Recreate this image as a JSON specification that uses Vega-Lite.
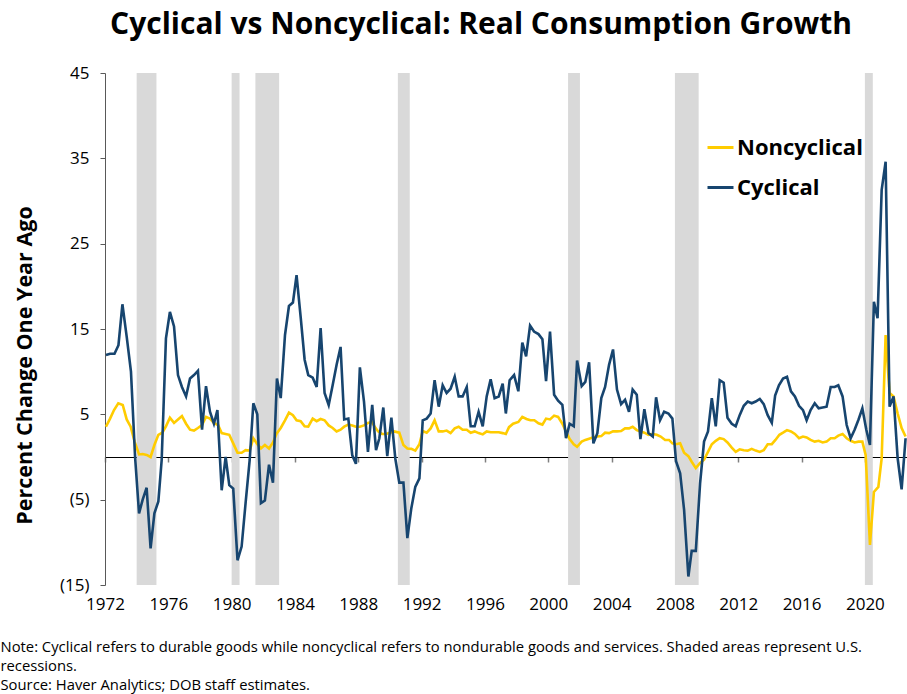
{
  "$schema": "https://vega.github.io/schema/vega-lite/v6.json",
  "width": 802,
  "height": 512,
  "autosize": "none",
  "padding": {"left": 105, "top": 73, "right": 0, "bottom": 109},
  "background": "white",
  "config": {"view": {"stroke": null}},
  "title": {"text": "Cyclical vs Noncyclical: Real Consumption Growth", "font": "Open Sans", "fontSize": 30, "fontWeight": "bold", "color": "black", "anchor": "middle", "dx": -25, "offset": 24},
  "datasets": {
    "rec": [
      {"d": 1974.0, "e": 1975.25},
      {"d": 1980.0, "e": 1980.5},
      {"d": 1981.5, "e": 1983.0},
      {"d": 1990.5, "e": 1991.25},
      {"d": 2001.25, "e": 2002.0},
      {"d": 2008.0, "e": 2009.5},
      {"d": 2020.0, "e": 2020.5}
    ],
    "non": [
      {"d":1972.06,"v":3.55},{"d":1972.32,"v":4.5},{"d":1972.57,"v":5.5},{"d":1972.84,"v":6.3},{"d":1973.12,"v":6.1},{"d":1973.37,"v":4.4},{"d":1973.62,"v":3.55},{"d":1973.87,"v":1.8},
      {"d":1974.15,"v":0.3},{"d":1974.38,"v":0.35},{"d":1974.63,"v":0.25},{"d":1974.88,"v":0},{"d":1975.12,"v":1.4},{"d":1975.37,"v":2.6},{"d":1975.62,"v":2.85},{"d":1975.85,"v":3.6},
      {"d":1976.1,"v":4.6},{"d":1976.36,"v":4.0},{"d":1976.61,"v":4.4},{"d":1976.86,"v":4.8},{"d":1977.12,"v":3.9},{"d":1977.37,"v":3.2},{"d":1977.62,"v":3.1},{"d":1977.87,"v":3.4},
      {"d":1978.13,"v":3.75},{"d":1978.38,"v":4.7},{"d":1978.63,"v":4.5},{"d":1978.88,"v":4.0},{"d":1979.14,"v":3.75},{"d":1979.37,"v":2.8},{"d":1979.62,"v":2.7},{"d":1979.85,"v":2.6},
      {"d":1980.1,"v":1.6},{"d":1980.37,"v":0.5},{"d":1980.63,"v":0.5},{"d":1980.88,"v":0.8},{"d":1981.14,"v":0.75},{"d":1981.37,"v":2.2},{"d":1981.62,"v":1.5},{"d":1981.85,"v":1.0},
      {"d":1982.1,"v":1.4},{"d":1982.36,"v":1.0},{"d":1982.61,"v":1.7},{"d":1982.86,"v":2.8},{"d":1983.1,"v":3.4},{"d":1983.37,"v":4.3},{"d":1983.62,"v":5.2},{"d":1983.87,"v":4.9},
      {"d":1984.1,"v":4.3},{"d":1984.36,"v":4.2},{"d":1984.61,"v":3.6},{"d":1984.84,"v":3.55},{"d":1985.12,"v":4.5},{"d":1985.37,"v":4.2},{"d":1985.62,"v":4.45},{"d":1985.87,"v":4.3},
      {"d":1986.13,"v":3.7},{"d":1986.38,"v":3.4},{"d":1986.63,"v":3.0},{"d":1986.88,"v":3.2},{"d":1987.11,"v":3.55},{"d":1987.37,"v":3.8},{"d":1987.62,"v":3.7},{"d":1987.85,"v":3.55},
      {"d":1988.1,"v":3.55},{"d":1988.36,"v":3.7},{"d":1988.61,"v":4.0},{"d":1988.86,"v":4.1},{"d":1989.05,"v":3.5},{"d":1989.25,"v":3.0},{"d":1989.5,"v":2.7},{"d":1989.75,"v":2.7},
      {"d":1990.0,"v":2.85},{"d":1990.26,"v":3.0},{"d":1990.59,"v":2.85},{"d":1990.85,"v":1.4},{"d":1991.1,"v":1.0},{"d":1991.35,"v":0.95},{"d":1991.6,"v":0.75},{"d":1991.86,"v":1.5},
      {"d":1992.07,"v":3.05},{"d":1992.32,"v":2.85},{"d":1992.57,"v":3.35},{"d":1992.82,"v":4.3},{"d":1993.08,"v":3.0},{"d":1993.33,"v":3.0},{"d":1993.58,"v":3.1},{"d":1993.83,"v":2.8},
      {"d":1994.09,"v":3.35},{"d":1994.34,"v":3.55},{"d":1994.59,"v":3.2},{"d":1994.85,"v":3.2},{"d":1995.1,"v":2.85},{"d":1995.35,"v":3.0},{"d":1995.6,"v":2.8},{"d":1995.86,"v":2.65},
      {"d":1996.11,"v":3.0},{"d":1996.36,"v":2.9},{"d":1996.61,"v":2.9},{"d":1996.87,"v":2.9},{"d":1997.12,"v":2.8},{"d":1997.32,"v":2.7},{"d":1997.52,"v":3.5},{"d":1997.78,"v":3.9},
      {"d":1998.11,"v":4.1},{"d":1998.36,"v":4.7},{"d":1998.62,"v":4.45},{"d":1998.87,"v":4.3},{"d":1999.12,"v":4.3},{"d":1999.38,"v":3.95},{"d":1999.63,"v":3.8},{"d":1999.86,"v":4.5},
      {"d":2000.11,"v":4.4},{"d":2000.37,"v":4.85},{"d":2000.62,"v":4.7},{"d":2000.89,"v":3.9},{"d":2001.12,"v":3.0},{"d":2001.35,"v":2.1},{"d":2001.61,"v":1.5},{"d":2001.82,"v":1.2},
      {"d":2002.11,"v":1.8},{"d":2002.34,"v":2.0},{"d":2002.58,"v":2.15},{"d":2002.85,"v":2.3},{"d":2003.1,"v":2.4},{"d":2003.35,"v":2.45},{"d":2003.59,"v":2.85},{"d":2003.84,"v":2.8},
      {"d":2004.09,"v":3.0},{"d":2004.34,"v":3.0},{"d":2004.6,"v":3.05},{"d":2004.85,"v":3.35},{"d":2005.1,"v":3.35},{"d":2005.33,"v":3.55},{"d":2005.59,"v":3.15},{"d":2005.84,"v":3.0},
      {"d":2006.07,"v":2.85},{"d":2006.33,"v":2.6},{"d":2006.6,"v":2.7},{"d":2006.85,"v":2.6},{"d":2007.1,"v":2.4},{"d":2007.38,"v":2.0},{"d":2007.63,"v":2.0},{"d":2007.84,"v":1.6},
      {"d":2008.07,"v":1.5},{"d":2008.33,"v":1.6},{"d":2008.58,"v":0.5},{"d":2008.85,"v":0.1},{"d":2009.06,"v":-0.55},{"d":2009.32,"v":-1.3},{"d":2009.59,"v":-0.7},{"d":2009.84,"v":-0.3},
      {"d":2010.09,"v":0.6},{"d":2010.33,"v":1.5},{"d":2010.58,"v":1.9},{"d":2010.83,"v":2.2},{"d":2011.08,"v":2.1},{"d":2011.32,"v":1.7},{"d":2011.59,"v":1.1},{"d":2011.84,"v":0.6},
      {"d":2012.09,"v":0.9},{"d":2012.35,"v":0.8},{"d":2012.6,"v":0.75},{"d":2012.85,"v":0.95},{"d":2013.1,"v":0.75},{"d":2013.36,"v":0.6},{"d":2013.61,"v":0.8},{"d":2013.86,"v":1.5},
      {"d":2014.12,"v":1.5},{"d":2014.35,"v":2.0},{"d":2014.6,"v":2.6},{"d":2014.83,"v":2.85},{"d":2015.08,"v":3.15},{"d":2015.33,"v":3.0},{"d":2015.58,"v":2.7},{"d":2015.84,"v":2.2},
      {"d":2016.09,"v":2.4},{"d":2016.32,"v":2.3},{"d":2016.57,"v":2.0},{"d":2016.83,"v":1.8},{"d":2017.08,"v":1.9},{"d":2017.33,"v":1.7},{"d":2017.58,"v":1.8},{"d":2017.84,"v":2.2},
      {"d":2018.09,"v":2.2},{"d":2018.32,"v":2.5},{"d":2018.59,"v":2.7},{"d":2018.85,"v":2.2},{"d":2019.1,"v":1.9},{"d":2019.35,"v":1.7},{"d":2019.6,"v":1.8},{"d":2019.84,"v":1.8},
      {"d":2020.05,"v":0.2},{"d":2020.32,"v":-10.3},{"d":2020.57,"v":-4.1},{"d":2020.85,"v":-3.5},{"d":2021.06,"v":-0.15},{"d":2021.31,"v":14.3},{"d":2021.56,"v":7.5},{"d":2021.81,"v":7.1},
      {"d":2022.07,"v":5.1},{"d":2022.32,"v":3.4},{"d":2022.57,"v":2.4}
    ],
    "cyc": [
      {"d":1972.06,"v":11.95},{"d":1972.32,"v":12.1},{"d":1972.6,"v":12.1},{"d":1972.85,"v":13.1},{"d":1973.1,"v":17.9},{"d":1973.37,"v":14.1},{"d":1973.64,"v":10.0},{"d":1973.9,"v":0},
      {"d":1974.15,"v":-6.6},{"d":1974.38,"v":-5.0},{"d":1974.63,"v":-3.6},{"d":1974.88,"v":-10.7},{"d":1975.12,"v":-6.6},{"d":1975.37,"v":-5.2},{"d":1975.58,"v":-0.35},{"d":1975.85,"v":13.9},
      {"d":1976.1,"v":17.0},{"d":1976.36,"v":15.3},{"d":1976.61,"v":9.6},{"d":1976.86,"v":8.2},{"d":1977.12,"v":7.1},{"d":1977.37,"v":9.2},{"d":1977.62,"v":9.6},{"d":1977.87,"v":10.1},
      {"d":1978.13,"v":3.2},{"d":1978.38,"v":8.3},{"d":1978.63,"v":5.3},{"d":1978.88,"v":3.9},{"d":1979.1,"v":5.5},{"d":1979.37,"v":-3.9},{"d":1979.62,"v":0},{"d":1979.85,"v":-3.3},
      {"d":1980.1,"v":-3.7},{"d":1980.37,"v":-12.1},{"d":1980.63,"v":-10.5},{"d":1980.88,"v":-5.4},{"d":1981.14,"v":-0.35},{"d":1981.37,"v":6.3},{"d":1981.62,"v":5.0},{"d":1981.85,"v":-5.4},
      {"d":1982.1,"v":-5.1},{"d":1982.36,"v":-0.9},{"d":1982.61,"v":-3.0},{"d":1982.86,"v":9.2},{"d":1983.1,"v":6.9},{"d":1983.37,"v":14.3},{"d":1983.62,"v":17.7},{"d":1983.87,"v":18.1},
      {"d":1984.1,"v":21.3},{"d":1984.36,"v":16.4},{"d":1984.61,"v":11.4},{"d":1984.84,"v":9.6},{"d":1985.12,"v":9.3},{"d":1985.37,"v":8.2},{"d":1985.62,"v":15.1},{"d":1985.87,"v":7.5},
      {"d":1986.13,"v":6.1},{"d":1986.38,"v":8.4},{"d":1986.63,"v":10.8},{"d":1986.88,"v":12.9},{"d":1987.11,"v":4.4},{"d":1987.37,"v":4.5},{"d":1987.62,"v":0.2},{"d":1987.85,"v":-0.8},
      {"d":1988.1,"v":10.5},{"d":1988.36,"v":6.5},{"d":1988.61,"v":0.6},{"d":1988.88,"v":6.1},{"d":1989.12,"v":0.8},{"d":1989.33,"v":2.2},{"d":1989.58,"v":5.8},{"d":1989.83,"v":0.1},
      {"d":1990.09,"v":4.6},{"d":1990.34,"v":-0.2},{"d":1990.59,"v":-3.0},{"d":1990.85,"v":-3.0},{"d":1991.1,"v":-9.5},{"d":1991.35,"v":-6.0},{"d":1991.6,"v":-3.5},{"d":1991.86,"v":-2.5},
      {"d":1992.07,"v":4.3},{"d":1992.32,"v":4.5},{"d":1992.57,"v":5.1},{"d":1992.82,"v":9.0},{"d":1993.08,"v":5.9},{"d":1993.33,"v":8.4},{"d":1993.58,"v":7.5},{"d":1993.83,"v":8.0},
      {"d":1994.09,"v":9.4},{"d":1994.34,"v":7.1},{"d":1994.59,"v":7.1},{"d":1994.85,"v":8.2},{"d":1995.1,"v":3.6},{"d":1995.35,"v":3.6},{"d":1995.6,"v":5.3},{"d":1995.86,"v":3.6},
      {"d":1996.11,"v":7.1},{"d":1996.36,"v":9.1},{"d":1996.61,"v":6.9},{"d":1996.87,"v":7.1},{"d":1997.12,"v":8.6},{"d":1997.32,"v":5.1},{"d":1997.56,"v":9.0},{"d":1997.84,"v":9.6},
      {"d":1998.11,"v":7.7},{"d":1998.36,"v":13.4},{"d":1998.6,"v":11.8},{"d":1998.85,"v":15.4},{"d":1999.1,"v":14.7},{"d":1999.38,"v":14.4},{"d":1999.63,"v":13.8},{"d":1999.86,"v":8.9},
      {"d":2000.11,"v":14.7},{"d":2000.37,"v":7.3},{"d":2000.62,"v":6.6},{"d":2000.89,"v":6.1},{"d":2001.12,"v":2.2},{"d":2001.35,"v":3.9},{"d":2001.61,"v":3.6},{"d":2001.82,"v":11.3},
      {"d":2002.11,"v":8.3},{"d":2002.34,"v":8.8},{"d":2002.58,"v":11.1},{"d":2002.85,"v":1.6},{"d":2003.1,"v":2.8},{"d":2003.35,"v":6.9},{"d":2003.59,"v":8.2},{"d":2003.84,"v":10.8},
      {"d":2004.09,"v":12.6},{"d":2004.34,"v":7.9},{"d":2004.6,"v":6.2},{"d":2004.85,"v":6.7},{"d":2005.1,"v":5.3},{"d":2005.33,"v":7.9},{"d":2005.59,"v":7.3},{"d":2005.82,"v":2.1},
      {"d":2006.07,"v":5.6},{"d":2006.33,"v":2.8},{"d":2006.6,"v":2.4},{"d":2006.81,"v":7.0},{"d":2007.06,"v":4.3},{"d":2007.32,"v":5.3},{"d":2007.59,"v":5.1},{"d":2007.84,"v":4.5},
      {"d":2008.07,"v":-0.5},{"d":2008.33,"v":-1.9},{"d":2008.58,"v":-6.2},{"d":2008.85,"v":-14.0},{"d":2009.06,"v":-11.0},{"d":2009.32,"v":-11.0},{"d":2009.59,"v":-3.1},{"d":2009.84,"v":1.8},
      {"d":2010.09,"v":3.0},{"d":2010.33,"v":6.9},{"d":2010.58,"v":3.6},{"d":2010.83,"v":9.0},{"d":2011.08,"v":8.7},{"d":2011.32,"v":4.6},{"d":2011.59,"v":3.9},{"d":2011.84,"v":3.6},
      {"d":2012.09,"v":4.9},{"d":2012.35,"v":6.0},{"d":2012.6,"v":6.5},{"d":2012.85,"v":6.3},{"d":2013.1,"v":6.5},{"d":2013.36,"v":6.8},{"d":2013.61,"v":6.2},{"d":2013.86,"v":4.9},
      {"d":2014.12,"v":4.0},{"d":2014.33,"v":7.2},{"d":2014.57,"v":8.4},{"d":2014.83,"v":9.2},{"d":2015.08,"v":9.4},{"d":2015.33,"v":7.7},{"d":2015.58,"v":7.1},{"d":2015.84,"v":6.0},
      {"d":2016.09,"v":5.5},{"d":2016.32,"v":4.3},{"d":2016.57,"v":5.5},{"d":2016.83,"v":6.3},{"d":2017.08,"v":5.7},{"d":2017.33,"v":5.8},{"d":2017.58,"v":5.9},{"d":2017.84,"v":8.2},
      {"d":2018.09,"v":8.2},{"d":2018.32,"v":8.4},{"d":2018.59,"v":7.1},{"d":2018.85,"v":3.75},{"d":2019.1,"v":2.2},{"d":2019.35,"v":3.2},{"d":2019.6,"v":4.4},{"d":2019.84,"v":5.7},
      {"d":2020.09,"v":3.2},{"d":2020.32,"v":1.4},{"d":2020.57,"v":18.2},{"d":2020.8,"v":16.25},{"d":2021.06,"v":31.3},{"d":2021.31,"v":34.6},{"d":2021.56,"v":5.9},{"d":2021.81,"v":7.1},
      {"d":2022.07,"v":-0.15},{"d":2022.32,"v":-3.8},{"d":2022.57,"v":2.2}
    ]
  },
  "encoding": {
    "x": {
      "field": "d", "type": "quantitative",
      "scale": {"domain": [1972, 2022.66], "nice": false, "zero": false},
      "axis": {
        "values": [1972, 1976, 1980, 1984, 1988, 1992, 1996, 2000, 2004, 2008, 2012, 2016, 2020],
        "format": "d", "offset": -128, "grid": false,
        "domainColor": "black", "domainWidth": 1,
        "tickColor": "#808080", "tickSize": 5, "tickWidth": 1.5,
        "labelFont": "Open Sans", "labelFontSize": 17, "labelColor": "black", "labelPadding": 134, "labelOverlap": false, "labelFlush": false, "labelDx": 3,
        "title": ["Note: Cyclical refers to durable goods while noncyclical refers to nondurable goods and services. Shaded areas represent U.S.", "recessions.", "Source:  Haver Analytics; DOB staff estimates."],
        "titleFont": "Open Sans", "titleFontSize": 14.8, "titleFontWeight": "normal", "titleColor": "black",
        "titleAlign": "left", "titleBaseline": "top", "titleX": -105, "titleY": 182, "titleLineHeight": 19
      }
    }
  },
  "layer": [
    {
      "data": {"name": "rec"},
      "mark": {"type": "rect", "color": "#D9D9D9"},
      "encoding": {"x2": {"field": "e"}}
    },
    {
      "data": {"name": "non"},
      "mark": {"type": "line", "strokeWidth": 2.6, "clip": true},
      "encoding": {
        "y": {"field": "v", "type": "quantitative",
          "scale": {"domain": [-15, 45], "nice": false, "zero": false},
          "axis": {"values": [-15, -5, 5, 15, 25, 35, 45], "labelExpr": "datum.value < 0 ? '(' + (-datum.value) + ')' : '' + datum.value",
            "grid": false, "domainColor": "#595959", "tickColor": "#595959", "tickSize": 5,
            "labelFont": "Open Sans", "labelFontSize": 17, "labelColor": "black", "labelPadding": 11,
            "title": "Percent Change One Year Ago", "titleFont": "Open Sans", "titleFontSize": 21.5, "titleFontWeight": "bold", "titleColor": "black",
            "titleX": -80, "titleY": 292, "titleAngle": -90, "titleAlign": "center", "titleBaseline": "middle"}},
        "color": {"datum": "Noncyclical", "type": "nominal",
          "scale": {"domain": ["Noncyclical", "Cyclical"], "range": ["#FFCC00", "#17456F"]},
          "legend": {"orient": "none", "legendX": 601, "legendY": 60, "title": null, "symbolType": "stroke", "symbolSize": 676, "symbolStrokeWidth": 3,
            "labelFont": "Open Sans", "labelFontSize": 22, "labelFontWeight": "bold", "labelColor": "black", "labelOffset": 2, "rowPadding": 14}}
      }
    },
    {
      "data": {"name": "cyc"},
      "mark": {"type": "line", "strokeWidth": 2.6, "clip": true},
      "encoding": {
        "y": {"field": "v", "type": "quantitative"},
        "color": {"datum": "Cyclical", "type": "nominal"}
      }
    }
  ]
}
